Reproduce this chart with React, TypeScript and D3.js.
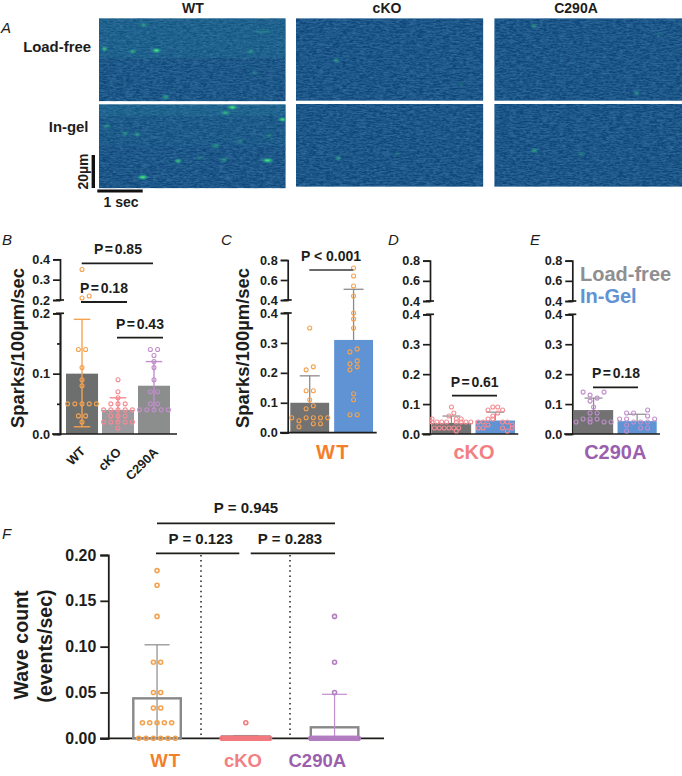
import { useEffect, useRef } from 'react'
import * as d3 from 'd3'

const FONT = '"Liberation Sans", Arial, sans-serif'
const ORANGE = '#f5a24f'
const PINK = '#f58b93'
const PURPLE = '#c08ecb'
const ORANGE_TXT = '#f47f2a'
const PINK_TXT = '#f27f83'
const PURPLE_TXT = '#9c5fae'
const GREY_BAR = '#727273'
const BLUE_BAR = '#5f93d3'
const STEM = '#8b8b8b'

type Row = (number | null)[]
type Spark = [number, number, number, number] // sec, um, intensity, duration

// panel A - line scan sparks
const wtLoadSparks: Spark[] = [
    [0.98, 4, 0.5, 0.06], [0.12, 18.4, 0.7, 0.06], [0.74, 20, 0.55, 0.08], [1.26, 19.4, 1, 0.12],
    [3.33, 20, 0.4, 0.08], [1.46, 47.4, 0.55, 0.08], [3.59, 8, 0.2, 0.4], [3.43, 32.6, 0.2, 0.08],
]
const wtGelSparks: Spark[] = [
    [2.93, 1.8, 1, 0.14], [2.78, 5, 0.6, 0.14], [4.03, 9, 0.9, 0.1], [0.18, 13, 0.4, 0.08],
    [0.57, 17.4, 0.4, 0.08], [0.83, 17.8, 0.4, 0.08], [3.74, 18.4, 0.3, 0.08], [2.56, 24.8, 0.45, 0.14],
    [1.74, 33.8, 0.7, 0.1], [2.23, 31.8, 0.25, 0.1], [2.74, 33, 0.4, 0.12], [3.7, 33.4, 1, 0.18],
    [0.96, 43.4, 1, 0.16], [3.1, 22, 0.25, 0.1],
]
const ckoLoadSparks: Spark[] = [[0.88, 25.6, 0.45, 0.05], [3.62, 39.4, 0.2, 0.08]]
const ckoGelSparks: Spark[] = [[0.93, 32.6, 0.45, 0.05], [2.2, 30.6, 0.2, 0.1]]
const c290LoadSparks: Spark[] = [[0.86, 4.6, 0.4, 0.08], [3.1, 45.4, 0.4, 0.05], [3.6, 10, 0.15, 0.1]]
const c290GelSparks: Spark[] = [[0.88, 28.2, 0.55, 0.06], [1.89, 30.2, 0.3, 0.1]]

const wtLoadBands = [[0, 24, 0.3], [24, 50, 0.06]]
const wtGelBands = [[0, 7, 0.36], [7, 25, 0.14], [25, 50, 0.05]]
const plainBands = [[0, 50, 0.03]]

// panel B
const bCats = ['WT', 'cKO', 'C290A']
const bMeans = [0.1, 0.04, 0.08]
const bLows = [0.012, 0.02, 0.04]
const bHighs = [0.19, 0.06, 0.12]
const bWt: Row[] = [[0.35], [null, 0.21, 0.22], [0.14, 0.14], [0.11], [0.09], [0.08], [0.05, 0.05, 0.05, 0.05, 0.05], [0.03, 0.03], [0.02]]
const bCko: Row[] = [[0.09], [0.07], [0.06], [0.05, 0.05, 0.05], [0.04, 0.04, 0.04, 0.04, 0.04], [0.03, 0.03, 0.03], [0.02, 0.02, 0.02, 0.02, 0.02], [0.01]]
const bC290: Row[] = [[0.14, 0.14], [0.13], [0.12], [0.11], [0.09], [0.07, 0.07], [0.05, 0.05], [0.04, 0.04, 0.04, 0.04, 0.04]]

// panel C
const cMeans = [0.1, 0.31]
const cHighs = [0.19, 0.507]
const cLoad: Row[] = [[0.35], [0.21, 0.22], [0.14, 0.14], [0.11], [0.08, 0.09], [0.05, 0.04, 0.05, 0.05, 0.05, 0.05], [0.02, null, 0.03, 0.03]]
const cGel: Row[] = [[0.72], [0.64], [0.54], [0.44], [0.4], [0.38], [0.35], [0.27, 0.28], [0.23, 0.24], [0.21, 0.22], [0.13], [0.11], [0.06, 0.06]]

// panel D
const dMeans = [0.037, 0.045]
const dHighs = [0.06, 0.073]
const dLoad: Row[] = [[0.09], [0.06, 0.07], [0.05, null, null, null, null, 0.05, 0.05, null, null], [0.04, 0.04, 0.04, 0.04, null, 0.04, 0.04, 0.04, 0.04], [0.02, 0.02, 0.02, 0.02, 0.02, 0.02, null, null], [null, null, null, 0.01, null]]
const dGel: Row[] = [[0.08, 0.09, 0.09, 0.08], [0.06, 0.07], [0.04, 0.04, 0.05, 0.05, null, 0.04, 0.04, 0.03], [0.02, 0.02, 0.03, null, null, 0.02, 0.01, 0.02]]

// panel E
const eMeans = [0.08, 0.043]
const eHighs = [0.12, 0.066]
const eLoad: Row[] = [[0.14, null, null, 0.14], [0.13, null], [null, 0.12], [0.11, null], [0.09], [0.07, 0.07], [0.05, 0.05, 0.05, null], [0.04, null, 0.04, null, 0.04, 0.04]]
const eGel: Row[] = [[0.07, 0.07, null, 0.08], [null, null, null, 0.06], [0.05, 0.05, null, null, null, 0.05], [null, 0.03, 0.04, 0.04, 0.04, null], [null, null, null, 0.02, 0.02, null], [null, 0.01, null, null, null, null]]

// panel F
const fCats = ['WT', 'cKO', 'C290A']
const fTicks = [0, 0.05, 0.1, 0.15, 0.2]
const fMeans = [0.0436, 0.002, 0.012]
const fHighs = [0.102, 0.003, 0.048]
const fWt: Row[] = [[0.183], [0.167], [0.133], [0.083, 0.083], [0.05, 0.05], [0.033, 0.033], [0.017, 0.017, 0.017, 0.017, 0.017], [0, 0, 0, 0, 0, 0]]
const fCko: Row[] = [[0.017], [0, 0, 0, 0, 0, 0, 0, 0, 0, 0, 0, 0, 0, 0, 0, 0, 0, 0, 0, 0]]
const fC290: Row[] = [[0.133], [0.083], [0.05], [0, 0, 0, 0, 0, 0, 0, 0, 0, 0, 0, 0, 0, 0, 0, 0, 0, 0, 0, 0, 0, 0]]

type Sel = d3.Selection<SVGGElement, unknown, null, undefined>

function label(g: Sel, x: number, y: number, s: string, size: number, opts: { fill?: string; anchor?: string; weight?: string; style?: string; rotate?: number; ws?: number; ls?: number } = {}) {
    const t = g.append('text')
        .attr('x', x).attr('y', y)
        .attr('text-anchor', opts.anchor ?? 'middle')
        .attr('font-family', FONT)
        .attr('font-size', size)
        .attr('font-weight', opts.weight ?? 'bold')
        .attr('font-style', opts.style ?? 'normal')
        .attr('fill', opts.fill ?? '#1d1d1b')
        .text(s)
    if (opts.rotate) t.attr('transform', `rotate(${opts.rotate},${x},${y})`)
    if (opts.ws !== undefined) t.attr('word-spacing', opts.ws)
    if (opts.ls !== undefined) t.attr('letter-spacing', opts.ls)
    return t
}

function hline(g: Sel, x1: number, x2: number, y: number, color = '#1d1d1b', w = 1.8) {
    g.append('line').attr('x1', x1).attr('x2', x2).attr('y1', y).attr('y2', y).attr('stroke', color).attr('stroke-width', w)
}

function styleAxis(a: Sel, size: number, w: number) {
    a.selectAll('path.domain').attr('stroke', '#1d1d1b').attr('stroke-width', w)
    a.selectAll('line').attr('stroke', '#1d1d1b').attr('stroke-width', w)
    a.selectAll('text').attr('font-family', FONT).attr('font-size', size).attr('font-weight', 'bold').attr('fill', '#1d1d1b')
}

function drawRows(g: Sel, rows: Row[], cx: number, y: (v: number) => number, color: string, spacing: number, maxW = 1000, r = 2, sw = 1.1) {
    rows.forEach(row => {
        const sp = row.length > 1 ? Math.min(spacing, maxW / (row.length - 1)) : 0
        row.forEach((v, i) => {
            if (v === null) return
            g.append('circle')
                .attr('cx', cx + (i - (row.length - 1) / 2) * sp)
                .attr('cy', y(v))
                .attr('r', r)
                .attr('fill', 'none')
                .attr('stroke', color)
                .attr('stroke-width', sw)
        })
    })
}

function errorBar(g: Sel, cx: number, yLow: number, yHigh: number, cap: number, color: string, w = 1.3, lowCap = false) {
    g.append('line').attr('x1', cx).attr('x2', cx).attr('y1', yLow).attr('y2', yHigh).attr('stroke', color).attr('stroke-width', w)
    hline(g, cx - cap / 2, cx + cap / 2, yHigh, color, w)
    if (lowCap) hline(g, cx - cap / 2, cx + cap / 2, yLow, color, w)
}

// axis with a break: low part up to brk, high part from brk to top
function brokenAxis(g: Sel, ax: number, y0: number, yLowTop: number, yHighBottom: number, yHighTop: number, brk: number, top: number, lowTicks: number[], minor: number[], highTicks: number[]) {
    const low = d3.scaleLinear().domain([0, brk]).range([y0, yLowTop])
    const high = d3.scaleLinear().domain([brk, top]).range([yHighBottom, yHighTop])
    const y = (v: number) => (v <= brk ? low(v) : high(v))

    const aLow = g.append('g').attr('transform', `translate(${ax},0)`)
        .call(d3.axisLeft(low).tickValues(lowTicks).tickSize(7).tickPadding(3).tickFormat(d3.format('.1f')) as any)
    styleAxis(aLow, 12.7, 1.7)
    if (minor.length) {
        const aMinor = g.append('g').attr('transform', `translate(${ax},0)`)
            .call(d3.axisLeft(low).tickValues(minor).tickSize(3).tickFormat(() => '') as any)
        styleAxis(aMinor, 12.7, 1.7)
    }
    const aHigh = g.append('g').attr('transform', `translate(${ax},0)`)
        .call(d3.axisLeft(high).tickValues(highTicks).tickSize(7).tickPadding(3).tickFormat(d3.format('.1f')) as any)
    styleAxis(aHigh, 12.7, 1.7)
    // caps either side of the break
    hline(g, ax - 4, ax + 4, high(brk), '#1d1d1b', 1.7)
    hline(g, ax - 4, ax + 4, low(brk), '#1d1d1b', 1.7)
    return y
}

function heatPanel(g: Sel, x0: number, y0: number, w: number, h: number, id: string, sparks: Spark[], bands: number[][]) {
    const t = d3.scaleLinear().domain([0, 4.1]).range([x0, x0 + w])
    const p = d3.scaleLinear().domain([0, 50]).range([y0, y0 + h])
    g.append('clipPath').attr('id', id).append('rect').attr('x', x0).attr('y', y0).attr('width', w).attr('height', h)
    const c = g.append('g').attr('clip-path', `url(#${id})`)
    c.append('rect').attr('x', x0).attr('y', y0).attr('width', w).attr('height', h).attr('fill', '#0f4479')
    bands.forEach(b => {
        c.append('rect').attr('x', x0).attr('y', p(b[0])).attr('width', w).attr('height', p(b[1]) - p(b[0]))
            .attr('fill', '#1f7f95').attr('opacity', b[2])
    })
    c.append('rect').attr('x', x0).attr('y', y0).attr('width', w).attr('height', h).attr('filter', 'url(#noiseLight)')
    c.append('rect').attr('x', x0).attr('y', y0).attr('width', w).attr('height', h).attr('filter', 'url(#noiseDark)')
    sparks.forEach(s => {
        const rx = (t(s[3]) - t(0)) / 2 + 3
        c.append('ellipse').attr('cx', t(s[0])).attr('cy', p(s[1]))
            .attr('rx', rx).attr('ry', 3.2)
            .attr('fill', 'url(#sparkGrad)').attr('opacity', s[2])
    })
}

function barPanel(g: Sel, band: d3.ScaleBand<string>, cats: string[], means: number[], colors: string[], y: (v: number) => number) {
    cats.forEach((c, i) => {
        g.append('rect')
            .attr('x', band(c)!)
            .attr('width', band.bandwidth())
            .attr('y', y(means[i]))
            .attr('height', y(0) - y(means[i]))
            .attr('fill', colors[i])
    })
}

export default function App() {
    const svgRef = useRef<SVGSVGElement>(null)

    useEffect(() => {
        if (!svgRef.current) return
        const svg = d3.select(svgRef.current)
        svg.selectAll('*').remove()

        const defs = svg.append('defs')
        const grad = defs.append('radialGradient').attr('id', 'sparkGrad')
        grad.append('stop').attr('offset', '0%').attr('stop-color', '#58e878')
        grad.append('stop').attr('offset', '35%').attr('stop-color', '#35c884').attr('stop-opacity', 0.85)
        grad.append('stop').attr('offset', '100%').attr('stop-color', '#1d8a94').attr('stop-opacity', 0)

        const addNoise = (id: string, seed: number, freq: string, rgb: number[], k: number, off: number) => {
            const f = defs.append('filter').attr('id', id).attr('x', 0).attr('y', 0).attr('width', 1).attr('height', 1)
            f.append('feTurbulence').attr('type', 'fractalNoise').attr('baseFrequency', freq).attr('numOctaves', 2).attr('seed', seed)
            f.append('feColorMatrix').attr('type', 'matrix')
                .attr('values', `0 0 0 0 ${rgb[0]} 0 0 0 0 ${rgb[1]} 0 0 0 0 ${rgb[2]} ${k} 0 0 0 ${off}`)
        }
        addNoise('noiseLight', 3, '0.3 0.7', [0.07, 0.36, 0.52], 0.9, -0.36)
        addNoise('noiseDark', 8, '0.12 0.6', [0.04, 0.17, 0.37], 1.4, -0.5)

        const root = svg.append('g') as unknown as Sel

        // ---- A
        const a = root.append('g') as Sel
        label(a, 1, 33, 'A', 15, { anchor: 'start', weight: 'normal', style: 'italic' })
        label(a, 193, 13, 'WT', 14)
        label(a, 387, 13, 'cKO', 14)
        label(a, 576, 13, 'C290A', 14)
        label(a, 91, 52, 'Load-free', 14.9, { anchor: 'end' })
        label(a, 88.5, 132, 'In-gel', 14.9, { anchor: 'end' })
        heatPanel(a, 99, 18.3, 186.7, 83, 'h1', wtLoadSparks, wtLoadBands)
        heatPanel(a, 99, 104.3, 186.7, 84, 'h2', wtGelSparks, wtGelBands)
        heatPanel(a, 296, 18.3, 187.3, 82.5, 'h3', ckoLoadSparks, plainBands)
        heatPanel(a, 296, 104, 187.3, 82.7, 'h4', ckoGelSparks, plainBands)
        heatPanel(a, 494.3, 18.3, 187.7, 82.5, 'h5', c290LoadSparks, plainBands)
        heatPanel(a, 494.3, 104, 187.7, 82.7, 'h6', c290GelSparks, plainBands)
        a.append('line').attr('x1', 93.3).attr('x2', 93.3).attr('y1', 155).attr('y2', 188).attr('stroke', '#111').attr('stroke-width', 3.4)
        hline(a, 97.3, 142.7, 191, '#111', 3)
        label(a, 87.5, 171.5, '20µm', 14, { rotate: -90 })
        label(a, 121, 207, '1 sec', 14)

        // ---- B
        const b = root.append('g') as Sel
        label(b, 2, 245, 'B', 15, { anchor: 'start', weight: 'normal', style: 'italic' })
        const yB = brokenAxis(b, 60, 434, 313.3, 300, 259.3, 0.2, 0.4, [0, 0.1, 0.2], [0.05, 0.15], [0.3, 0.4, 0.2])
        label(b, 24, 348, 'Sparks/100µm/sec', 18.4, { rotate: -90 })
        const bandB = d3.scaleBand().domain(bCats).range([66, 170]).paddingInner(0.11)
        barPanel(b, bandB, bCats, bMeans, ['#6d6e6e', '#9a9a9f', '#8c8d8d'], yB)
        hline(b, 52, 177, 434, '#1d1d1b', 1.7)
        const bColors = [ORANGE, PINK, PURPLE]
        const bRows = [bWt, bCko, bC290]
        bCats.forEach((c, i) => {
            const cx = bandB(c)! + bandB.bandwidth() / 2
            errorBar(b, cx, yB(bLows[i]), yB(bHighs[i]), 16.5, bColors[i], 1.4, i === 0)
            drawRows(b, bRows[i], cx, yB, bColors[i], 7.2)
        })
        label(b, 86, 452, 'WT', 12.7, { anchor: 'end', rotate: -45 })
        label(b, 122, 453, 'cKO', 12.7, { anchor: 'end', rotate: -45 })
        label(b, 159, 453, 'C290A', 12.7, { anchor: 'end', rotate: -45 })
        label(b, 118, 254, 'P = 0.85', 14, { ws: -2.2 })
        hline(b, 81.7, 153, 263.3)
        label(b, 104, 293, 'P = 0.18', 14, { ws: -2.2 })
        hline(b, 81, 127, 302)
        label(b, 140, 329, 'P = 0.43', 14, { ws: -2.2 })
        hline(b, 117, 163, 337.7)

        // ---- C
        const c = root.append('g') as Sel
        label(c, 221, 245, 'C', 15, { anchor: 'start', weight: 'normal', style: 'italic' })
        const yC = brokenAxis(c, 287.7, 432.7, 313, 300, 260, 0.4, 0.8, [0, 0.1, 0.2, 0.3, 0.4], [], [0.4, 0.6, 0.8])
        label(c, 249, 348, 'Sparks/100µm/sec', 18.4, { rotate: -90 })
        const twoCats = ['Load-free', 'In-Gel']
        const bandC = d3.scaleBand().domain(twoCats).range([290.3, 373]).paddingInner(0.114)
        barPanel(c, bandC, twoCats, cMeans, [GREY_BAR, BLUE_BAR], yC)
        hline(c, 280, 376.7, 432.7, '#1d1d1b', 1.7)
        const cRows = [cLoad, cGel]
        twoCats.forEach((k, i) => {
            const cx = bandC(k)! + bandC.bandwidth() / 2
            errorBar(c, cx, yC(cMeans[i]), yC(cHighs[i]), 20, STEM, 1.3)
            drawRows(c, cRows[i], cx, yC, ORANGE, 7.2)
        })
        label(c, 331, 261, 'P < 0.001', 14)
        hline(c, 309.3, 353.3, 270, '#6a6a6a')
        label(c, 333, 459, 'WT', 20, { fill: ORANGE_TXT, ls: 1.5 })

        // ---- D
        const d = root.append('g') as Sel
        label(d, 388, 245, 'D', 15, { anchor: 'start', weight: 'normal', style: 'italic' })
        const yD = brokenAxis(d, 430, 434, 314.3, 301, 260.7, 0.4, 0.8, [0, 0.1, 0.2, 0.3, 0.4], [], [0.4, 0.6, 0.8])
        const bandD = d3.scaleBand().domain(twoCats).range([431.7, 515]).paddingInner(0.1)
        barPanel(d, bandD, twoCats, dMeans, [GREY_BAR, BLUE_BAR], yD)
        hline(d, 421.7, 518.3, 434, '#1d1d1b', 1.7)
        const dRows = [dLoad, dGel]
        twoCats.forEach((k, i) => {
            const cx = bandD(k)! + bandD.bandwidth() / 2
            errorBar(d, cx, yD(dMeans[i]), yD(dHighs[i]), 18, STEM, 1.2)
            drawRows(d, dRows[i], cx, yD, PINK, 4.85)
        })
        label(d, 474.7, 387, 'P = 0.61', 14, { ws: -2.2 })
        hline(d, 452, 497, 395.7)
        label(d, 474, 459.3, 'cKO', 20, { fill: PINK_TXT })

        // ---- E
        const e = root.append('g') as Sel
        label(e, 530, 245, 'E', 15, { anchor: 'start', weight: 'normal', style: 'italic' })
        const yE = brokenAxis(e, 572.3, 434, 314.3, 301, 260.7, 0.4, 0.8, [0, 0.1, 0.2, 0.3, 0.4], [], [0.4, 0.6, 0.8])
        const bandE = d3.scaleBand().domain(twoCats).range([574, 656.7]).paddingInner(0.1)
        barPanel(e, bandE, twoCats, eMeans, [GREY_BAR, BLUE_BAR], yE)
        hline(e, 564, 660, 434, '#1d1d1b', 1.7)
        const eRows = [eLoad, eGel]
        twoCats.forEach((k, i) => {
            const cx = bandE(k)! + bandE.bandwidth() / 2
            errorBar(e, cx, yE(eMeans[i]), yE(eHighs[i]), 18, STEM, 1.2)
            drawRows(e, eRows[i], cx, yE, PURPLE, 7)
        })
        label(e, 616, 378, 'P = 0.18', 14, { ws: -2.2 })
        hline(e, 593, 638, 387.3)
        label(e, 615.3, 459.3, 'C290A', 20, { fill: PURPLE_TXT })
        label(e, 580, 281, 'Load-free', 20, { anchor: 'start', fill: '#8f8f91' })
        label(e, 580, 303, 'In-Gel', 20, { anchor: 'start', fill: BLUE_BAR })

        // ---- F
        const f = root.append('g') as Sel
        label(f, 2, 539, 'F', 15, { anchor: 'start', weight: 'normal', style: 'italic' })
        const yF = d3.scaleLinear().domain([0, 0.2]).range([738.3, 555])
        const fAxis = f.append('g').attr('transform', 'translate(108.3,0)')
            .call(d3.axisLeft(yF).tickValues(fTicks).tickSize(8).tickPadding(4).tickFormat(d3.format('.2f')) as any)
        styleAxis(fAxis as unknown as Sel, 15.9, 1.8)
        label(f, 28, 645, 'Wave count', 19.6, { rotate: -90 })
        label(f, 52, 646, '(events/sec)', 19.6, { rotate: -90 })
        const bandF = d3.scaleBand().domain(fCats).range([133.3, 358.3]).paddingInner(0.465)
        ;[201, 290].forEach(vx => {
            f.append('line').attr('x1', vx).attr('x2', vx).attr('y1', 555).attr('y2', 738)
                .attr('stroke', '#1d1d1b').attr('stroke-width', 1.5).attr('stroke-dasharray', '1.5 3.6')
        })
        hline(f, 100, 384, 738.3, '#1d1d1b', 1.8)
        const fColors = [ORANGE, '#f4797e', '#b47cc2']
        const fStems = [STEM, STEM, '#c08ecb']
        const fRows = [fWt, fCko, fC290]
        fCats.forEach((k, i) => {
            const x = bandF(k)!
            const cx = x + bandF.bandwidth() / 2
            f.append('rect').attr('x', x).attr('width', bandF.bandwidth())
                .attr('y', yF(fMeans[i])).attr('height', yF(0) - yF(fMeans[i]))
                .attr('fill', 'none').attr('stroke', '#888889').attr('stroke-width', 2.4)
            errorBar(f, cx, yF(0), yF(fHighs[i]), 25, fStems[i], 1.2)
            drawRows(f, fRows[i], cx, yF, fColors[i], 7.3, bandF.bandwidth(), 2, 1.6)
        })
        label(f, 165.7, 766.7, 'WT', 18.5, { fill: ORANGE_TXT, ls: 1 })
        label(f, 243, 766.7, 'cKO', 18.5, { fill: PINK_TXT })
        label(f, 317.3, 766.7, 'C290A', 18.5, { fill: PURPLE_TXT })
        label(f, 246, 513, 'P = 0.945', 15)
        hline(f, 157, 335, 523.3)
        label(f, 200.7, 544, 'P = 0.123', 15)
        hline(f, 156, 239.3, 553.3)
        label(f, 290, 544, 'P = 0.283', 15)
        hline(f, 250.7, 335, 553.3)
    }, [])

    return <svg ref={svgRef} width={682} height={776} style={{ position: 'absolute', left: 0, top: 0, background: '#fff' }} />
}
